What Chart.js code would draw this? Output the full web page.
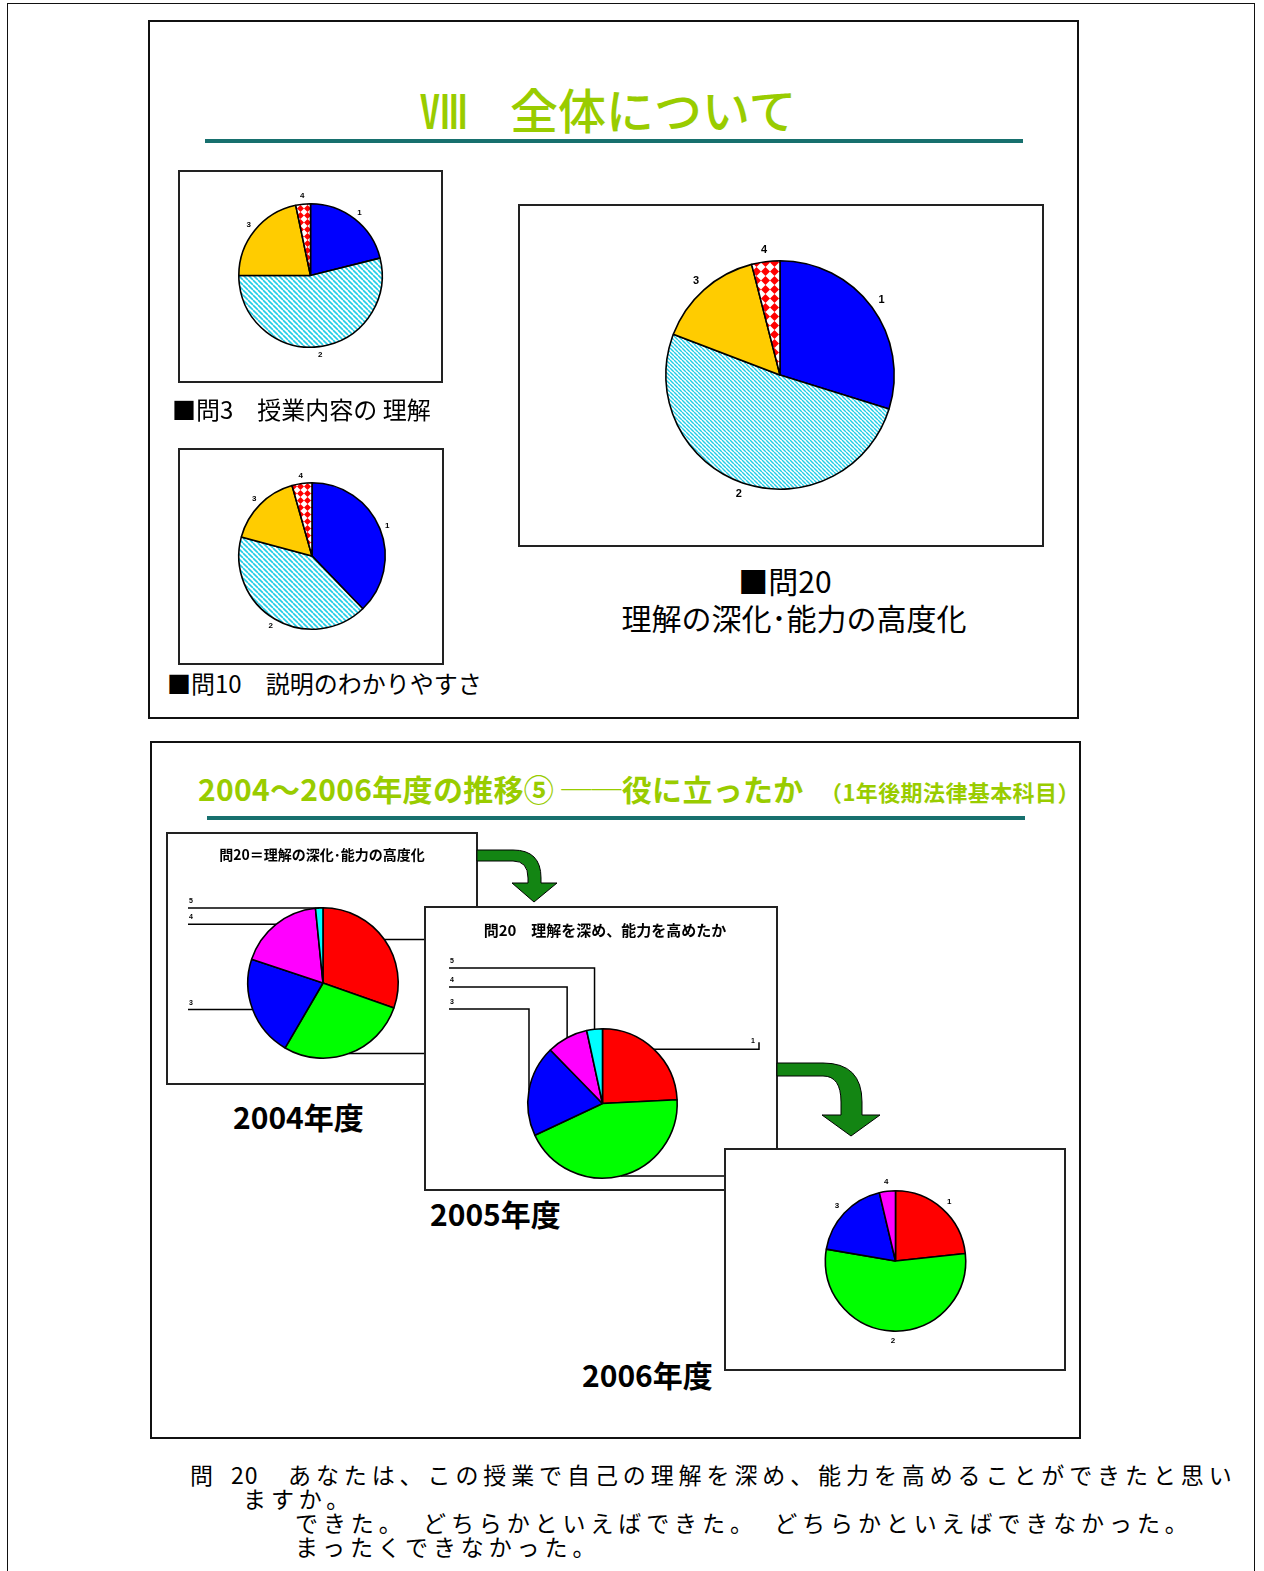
<!DOCTYPE html>
<html><head><meta charset="utf-8">
<script src="https://cdn.jsdelivr.net/npm/chart.js@4.4.1/dist/chart.umd.min.js"></script>
<style>
body{margin:0;background:#fff;width:1264px;height:1571px;position:relative;overflow:hidden;font-family:"Noto Sans CJK JP","Noto Sans",sans-serif;color:#000}
.frame{position:absolute;border:2px solid #111;box-sizing:border-box;pointer-events:none}
.box{position:absolute;background:#fff}
.box canvas{position:absolute;left:0;top:0}
.box .bd{position:absolute;left:0;top:0;right:0;bottom:0;border:2px solid #222;pointer-events:none}
.t{position:absolute;white-space:nowrap;line-height:1}
.rule{position:absolute;height:4px;background:#17706e}
.c{transform:translateX(-50%)}
.q{font-size:23px;letter-spacing:4.9px}
</style></head><body>

<div class="frame" style="left:7px;top:3px;width:1248px;height:1600px;border-width:1.5px"></div>

<!-- Slide 1 -->
<div class="frame" style="left:148px;top:20px;width:931px;height:699px"></div>
<div class="t" style="left:420px;top:84px;font-size:48px;font-weight:500;color:#99cc00">Ⅷ</div>
<div class="t" style="left:510px;top:84px;font-size:48px;font-weight:500;color:#99cc00">全体について</div>
<div class="rule" style="left:205px;top:139px;width:818px"></div>

<div class="box" style="left:178px;top:170px;width:265px;height:213px"><canvas id="cQ3" width="265" height="213"></canvas><div class="bd"></div></div>
<div class="t" style="left:172px;top:397px;font-size:24px">■問3　授業内容の 理解</div>

<div class="box" style="left:178px;top:448px;width:266px;height:217px"><canvas id="cQ10" width="266" height="217"></canvas><div class="bd"></div></div>
<div class="t" style="left:167px;top:671px;font-size:24px">■問10　説明のわかりやすさ</div>

<div class="box" style="left:518px;top:204px;width:526px;height:343px"><canvas id="cQ20" width="526" height="343"></canvas><div class="bd"></div></div>
<div class="t c" style="left:785px;top:565px;font-size:30px">■問20</div>
<div class="t c" style="left:794px;top:602px;font-size:30px">理解の深化･能力の高度化</div>

<!-- Slide 2 -->
<div class="frame" style="left:150px;top:741px;width:931px;height:698px"></div>
<div class="t" style="left:198px;top:773px;font-size:30px;font-weight:700;color:#99cc00;letter-spacing:0.3px">2004～2006年度の推移⑤ ──役に立ったか</div>
<div class="t" style="left:820px;top:780px;font-size:22px;font-weight:700;color:#99cc00;letter-spacing:0.4px">（1年後期法律基本科目）</div>
<div class="rule" style="left:207px;top:816px;width:818px"></div>

<div class="box" style="left:166px;top:832px;width:312px;height:253px;z-index:1"><canvas id="c2004" width="312" height="253"></canvas><div class="t c" style="left:156px;top:15px;font-size:14px;font-weight:700">問20＝理解の深化･能力の高度化</div><div class="bd"></div></div>
<div class="box" style="left:424px;top:906px;width:354px;height:285px;z-index:2"><canvas id="c2005" width="354" height="285"></canvas><div class="t c" style="left:181px;top:16px;font-size:15px;font-weight:700">問20　理解を深め、能力を高めたか</div><div class="bd"></div></div>
<div class="box" style="left:724px;top:1148px;width:342px;height:223px;z-index:3"><canvas id="c2006" width="342" height="223"></canvas><div class="bd"></div></div>

<div class="t" style="left:233px;top:1101px;font-size:30px;font-weight:700">2004年度</div>
<div class="t" style="left:430px;top:1198px;font-size:30px;font-weight:700">2005年度</div>
<div class="t" style="left:582px;top:1359px;font-size:30px;font-weight:700">2006年度</div>

<svg width="1264" height="1571" style="position:absolute;left:0;top:0;z-index:5;pointer-events:none">
<path d="M477,850 L513,850 Q541,850 541,878 L541,883 L557,883 L534,902 L512,883 L528,883 L528,878 Q528,861 513,861 L477,861 Z" fill="#138513" stroke="#000" stroke-width="1"/>
<path d="M777,1063 L823,1063 Q862,1063 862,1102 L862,1115 L880,1115 L851,1136 L822,1115 L841,1115 L841,1102 Q841,1076 823,1076 L777,1076 Z" fill="#138513" stroke="#000" stroke-width="1"/>
</svg>

<div class="t q" style="left:190px;top:1463px">問</div>
<div class="t q" style="left:231px;top:1463px;letter-spacing:1px">20</div>
<div class="t q" style="left:288px;top:1463px">あなたは、この授業で自己の理解を深め、能力を高めることができたと思い</div>
<div class="t q" style="left:243px;top:1487px">ますか。</div>
<div class="t q" style="left:295px;top:1511px">できた。　どちらかといえばできた。　どちらかといえばできなかった。</div>
<div class="t q" style="left:295px;top:1535px">まったくできなかった。</div>

<script>
// ---- data ----
const scaleLabels4 = ['1', '2', '3', '4'];
const scaleLabels5 = ['1', '2', '3', '4', '5'];
const q3Values  = [21.1, 53.9, 21.7, 3.3];   // 問3 授業内容の理解
const q10Values = [37.8, 41.4, 16.4, 4.4];   // 問10 説明のわかりやすさ
const q20Values = [29.8, 51.0, 15.2, 4.0];   // 問20 理解の深化・能力の高度化
const y2004Values = [30.4, 28.0, 21.7, 18.3, 1.6];
const y2005Values = [24.2, 43.8, 19.7, 8.9, 3.4];
const y2006Values = [23.3, 54.4, 18.6, 3.7];

// ---- patterns ----
function hatch(size, color, lw) {
  const c = document.createElement('canvas'); c.width = c.height = size;
  const g = c.getContext('2d');
  g.fillStyle = '#fff'; g.fillRect(0, 0, size, size);
  g.strokeStyle = color; g.lineWidth = lw; g.beginPath();
  for (const o of [-size, 0, size]) { g.moveTo(o, 0); g.lineTo(o + size, size); }
  g.stroke();
  return g.createPattern(c, 'repeat');
}
function diamonds(size) {
  const c = document.createElement('canvas'); c.width = c.height = size;
  const g = c.getContext('2d');
  g.fillStyle = '#fff'; g.fillRect(0, 0, size, size);
  g.fillStyle = '#ff0000'; g.beginPath();
  g.moveTo(size / 2, 0); g.lineTo(size, size / 2); g.lineTo(size / 2, size); g.lineTo(0, size / 2);
  g.closePath(); g.fill();
  return g.createPattern(c, 'repeat');
}
const smallColors = ['#0000ff', hatch(5, '#22cde6', 1.6), '#ffcc00', diamonds(7)];
const bigColors = ['#0000ff', hatch(4, '#22cde6', 1.4), '#ffcc00', diamonds(9)];
const yearColors = ['#ff0000', '#00ff00', '#0000ff', '#ff00ff', '#00ffff'];
const y2006Colors = ['#ff0000', '#00ff00', '#0000ff', '#ff00ff'];

// ---- label plugin ----
function labelPlugin(cfg) {
  return {
    id: 'pieLabels',
    afterDatasetsDraw(chart) {
      const ctx = chart.ctx;
      const meta = chart.getDatasetMeta(0);
      ctx.save();
      ctx.font = cfg.font;
      ctx.fillStyle = '#000'; ctx.strokeStyle = '#000'; ctx.lineWidth = 1.5;
      meta.data.forEach((arc, i) => {
        const p = arc.getProps(['x', 'y', 'startAngle', 'endAngle', 'outerRadius'], true);
        const mid = (p.startAngle + p.endAngle) / 2;
        const lab = chart.data.labels[i];
        const ex = p.x + Math.cos(mid) * p.outerRadius, ey = p.y + Math.sin(mid) * p.outerRadius;
        const s = cfg.items ? cfg.items[i] : null;
        if (!s) {
          const r = p.outerRadius + cfg.offset;
          ctx.textAlign = 'center'; ctx.textBaseline = 'middle';
          ctx.fillText(lab, p.x + Math.cos(mid) * r, p.y + Math.sin(mid) * r);
        } else if (s.t === 'left') {
          ctx.beginPath(); ctx.moveTo(s.x, ey); ctx.lineTo(ex, ey); ctx.stroke();
          ctx.textAlign = 'left'; ctx.textBaseline = 'alphabetic';
          ctx.fillText(lab, s.x + 1, ey - 5);
        } else if (s.t === 'right') {
          ctx.beginPath(); ctx.moveTo(ex, ey); ctx.lineTo(chart.width, ey); ctx.stroke();
        } else if (s.t === 'elbowL') {
          ctx.beginPath(); ctx.moveTo(s.x, s.y); ctx.lineTo(ex, s.y); ctx.lineTo(ex, ey); ctx.stroke();
          ctx.textAlign = 'left'; ctx.textBaseline = 'alphabetic';
          ctx.fillText(lab, s.x + 1, s.y - 5);
        } else if (s.t === 'elbowR') {
          ctx.beginPath(); ctx.moveTo(ex, ey); ctx.lineTo(s.x, ey); ctx.lineTo(s.x, ey - 7); ctx.stroke();
          ctx.textAlign = 'right'; ctx.textBaseline = 'alphabetic';
          ctx.fillText(lab, s.x - 4, ey - 6);
        }
      });
      ctx.restore();
    }
  };
}

function makePie(id, labels, values, colors, pad, cfg) {
  return new Chart(document.getElementById(id), {
    type: 'pie',
    data: { labels: labels, datasets: [{ data: values, backgroundColor: colors, borderColor: '#000', borderWidth: 1.6 }] },
    options: {
      responsive: false, animation: false, events: [],
      layout: { padding: pad },
      plugins: { legend: { display: false }, tooltip: { enabled: false } }
    },
    plugins: [labelPlugin(cfg)]
  });
}

makePie('cQ3', scaleLabels4, q3Values, smallColors,
  { top: 33, bottom: 35, left: 60, right: 60 }, { font: 'bold 8px "Liberation Sans"', offset: 8 });
makePie('cQ10', scaleLabels4, q10Values, smallColors,
  { top: 34, bottom: 35, left: 60, right: 58 }, { font: 'bold 8px "Liberation Sans"', offset: 8 });
makePie('cQ20', scaleLabels4, q20Values, bigColors,
  { top: 56, bottom: 57, left: 147, right: 149 }, { font: 'bold 11px "Liberation Sans"', offset: 12 });
makePie('c2004', scaleLabels5, y2004Values, yearColors,
  { top: 75, bottom: 26, left: 81, right: 79 },
  { font: 'bold 7px "Liberation Sans"', items: [{ t: 'right' }, { t: 'right' }, { t: 'left', x: 22 }, { t: 'left', x: 22 }, { t: 'left', x: 22 }] });
makePie('c2005', scaleLabels5, y2005Values, yearColors,
  { top: 122, bottom: 12, left: 103, right: 100 },
  { font: 'bold 7px "Liberation Sans"', items: [{ t: 'elbowR', x: 335 }, { t: 'right' }, { t: 'elbowL', x: 25, y: 103 }, { t: 'elbowL', x: 25, y: 81 }, { t: 'elbowL', x: 25, y: 62 }] });
makePie('c2006', scaleLabels4, y2006Values, y2006Colors,
  { top: 42, bottom: 39, left: 100, right: 99 }, { font: 'bold 8px "Liberation Sans"', offset: 10 });
</script>
</body></html>
